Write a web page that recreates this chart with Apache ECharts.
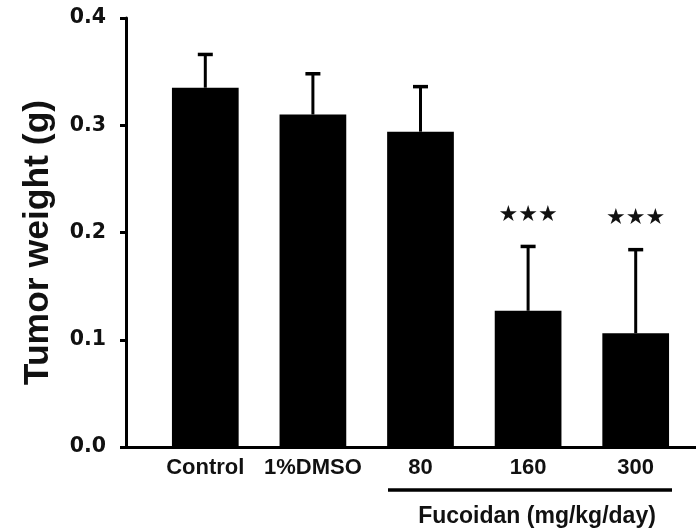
<!DOCTYPE html>
<html>
<head>
<meta charset="utf-8">
<script src="https://cdn.jsdelivr.net/npm/echarts@6/dist/echarts.min.js"></script>
<style>html,body{margin:0;padding:0;background:#fff;}#c{width:696px;height:530px;}</style>
</head>
<body>
<div id="c"></div>
<script>
var categories = ['Control', '1%DMSO', '80', '160', '300'];
var means = [0.335, 0.310, 0.294, 0.127, 0.106];
var errors = [0.031, 0.038, 0.042, 0.060, 0.078];
var significance = ['', '', '', '★★★', '★★★'];
var yTicks = [0.0, 0.1, 0.2, 0.3, 0.4];
var yAxisTitle = 'Tumor weight (g)';
var groupLabel = 'Fucoidan (mg/kg/day)';

var chart = echarts.init(document.getElementById('c'), null, {renderer: 'canvas'});

var errData = means.map(function (m, i) { return [i, m, errors[i]]; });

var option = {
  backgroundColor: '#ffffff',
  animation: false,
  grid: [
    {left: 151.5, right: 6.5, top: 18, bottom: 83, outerBoundsMode: 'none'},
    {left: 126, right: 0, top: 18, bottom: 83, outerBoundsMode: 'none'}
  ],
  xAxis: [
    {
      type: 'category', gridIndex: 0, data: categories,
      axisLine: {show: false}, axisTick: {show: false},
      axisLabel: {interval: 0, hideOverlap: false, color: '#111', fontFamily: 'Liberation Sans', fontWeight: 'bold', fontSize: 22, margin: 10}
    },
    {
      type: 'value', gridIndex: 1, min: 0, max: 1,
      axisLine: {show: true, lineStyle: {color: '#000', width: 3}},
      axisTick: {show: false}, axisLabel: {show: false}, splitLine: {show: false}
    }
  ],
  yAxis: [
    {
      type: 'value', gridIndex: 0, min: yTicks[0], max: yTicks[yTicks.length - 1], interval: 0.1,
      offset: 25.5,
      name: yAxisTitle, nameLocation: 'middle', nameRotate: 90, nameGap: 70,
      nameTextStyle: {color: '#111', fontFamily: 'Liberation Sans', fontWeight: 'bold', fontSize: 35.5, padding: [0, 20, 0, 0]},
      axisLine: {show: true, lineStyle: {color: '#000', width: 3}},
      axisTick: {show: true, length: 6, lineStyle: {color: '#000', width: 3}},
      axisLabel: {color: '#111', fontFamily: 'DejaVu Sans', fontWeight: 'bold', fontSize: 20.5, margin: 20,
        formatter: function (v) { return v.toFixed(1); }},
      splitLine: {show: false}
    },
    {type: 'value', gridIndex: 1, show: false, min: 0, max: 1}
  ],
  series: [
    {
      type: 'bar', xAxisIndex: 0, yAxisIndex: 0, data: means, barWidth: '62%',
      itemStyle: {color: '#000'}, z: 2
    },
    {
      type: 'custom', xAxisIndex: 0, yAxisIndex: 0, data: errData, z: 3,
      renderItem: function (params, api) {
        var base = api.coord([api.value(0), api.value(1)]);
        var top = api.coord([api.value(0), api.value(1) + api.value(2)]);
        var hw = 7.5;
        var children = [
          {type: 'line', shape: {x1: base[0], y1: base[1], x2: top[0], y2: top[1]}, style: {stroke: '#000', lineWidth: 3}},
          {type: 'line', shape: {x1: top[0] - hw, y1: top[1], x2: top[0] + hw, y2: top[1]}, style: {stroke: '#000', lineWidth: 3.5}}
        ];
        var s = significance[params.dataIndex];
        if (s) {
          children.push({type: 'text', x: top[0], y: top[1] - 31,
            style: {text: s, fill: '#111', font: '22px "DejaVu Sans"', align: 'center', verticalAlign: 'middle'}});
        }
        return {type: 'group', children: children};
      }
    }
  ],
  graphic: [
    {type: 'line', shape: {x1: 388, y1: 490, x2: 672, y2: 490}, style: {stroke: '#000', lineWidth: 3.5}},
    {type: 'text', x: 537, y: 517, style: {text: groupLabel, fill: '#111', font: 'bold 23px "Liberation Sans"', align: 'center', verticalAlign: 'middle'}}
  ]
};
chart.setOption(option);
</script>
</body>
</html>
